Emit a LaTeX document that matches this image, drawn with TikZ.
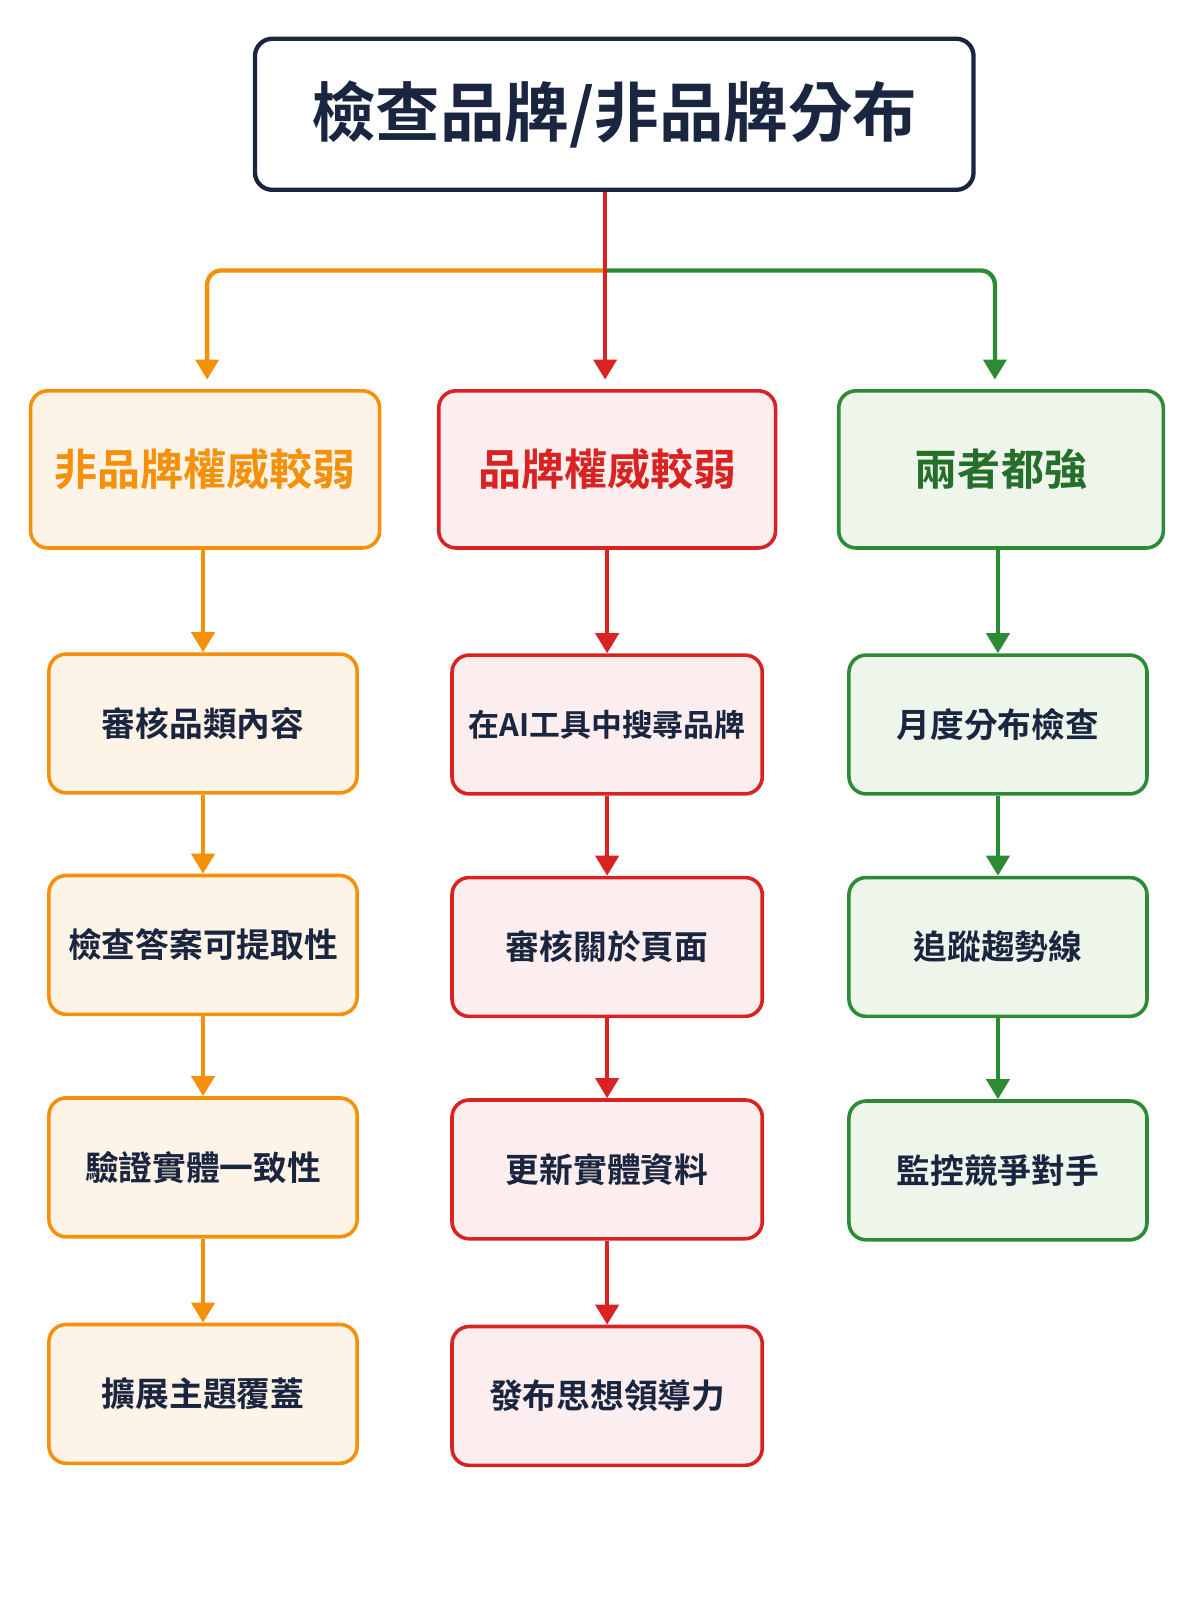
\documentclass[tikz,border=0pt]{standalone}
\usepackage{fontspec}
\newfontfamily\cjk{Noto Sans CJK TC}[BoldFont={Noto Sans CJK TC Bold}]
\usetikzlibrary{arrows.meta}
\definecolor{nv}{HTML}{1A2540}
\definecolor{og}{HTML}{F5900A}
\definecolor{rd}{HTML}{D92222}
\definecolor{gr}{HTML}{2E8B35}
\definecolor{ogf}{HTML}{FDF3E6}
\definecolor{rdf}{HTML}{FCEEEE}
\definecolor{grf}{HTML}{EEF6EC}
\begin{document}
\begin{tikzpicture}[x=0.025cm,y=-0.025cm,
 bx/.style={draw,line width=2.5pt,rounded corners=12pt,inner sep=0pt,font=\cjk\bfseries\fontsize{23.5}{28}\selectfont,text=nv},
 ob/.style={bx,draw=og,fill=ogf},
 rb/.style={bx,draw=rd,fill=rdf},
 gb/.style={bx,draw=gr,fill=grf},
 ar/.style={line width=3pt,-{Triangle[length=14pt,width=16pt]}}]
\useasboundingbox (0,0) rectangle (1176,1568);
\fill[white] (0,0) rectangle (1176,1568);
\node[bx,draw=nv,line width=3pt,fill=white,minimum width=17.6cm,minimum height=3.7cm,font=\cjk\bfseries\fontsize{45}{50}\selectfont] (t) at (602,112) {檢查品牌/非品牌分布};
\node[ob,minimum width=8.55cm,minimum height=3.85cm,text=og,font=\cjk\bfseries\fontsize{30}{34}\selectfont] (o) at (201,460) {非品牌權威較弱};
\node[rb,minimum width=8.25cm,minimum height=3.85cm,text=rd,font=\cjk\bfseries\fontsize{30}{34}\selectfont] (r) at (595,460) {品牌權威較弱};
\node[gb,minimum width=7.95cm,minimum height=3.85cm,text=gr!80!black,font=\cjk\bfseries\fontsize{30}{34}\selectfont] (g) at (981,460) {兩者都強};
\foreach \n/\y/\s in {o1/709/審核品類內容,o2/926/檢查答案可提取性,o3/1144/驗證實體一致性,o4/1366/擴展主題覆蓋}
 \node[ob,minimum width=7.55cm,minimum height=3.4cm] (\n) at (199,\y) {\s};
\node[rb,minimum width=7.6cm,minimum height=3.4cm,font=\cjk\bfseries\fontsize{21.5}{26}\selectfont] (r1) at (595,710) {在AI工具中搜尋品牌};
\foreach \n/\y/\s in {r2/928/審核關於頁面,r3/1146/更新實體資料,r4/1368/發布思想領導力}
 \node[rb,minimum width=7.6cm,minimum height=3.4cm] (\n) at (595,\y) {\s};
\foreach \n/\y/\s in {g1/710/月度分布檢查,g2/928/追蹤趨勢線,g3/1147/監控競爭對手}
 \node[gb,minimum width=7.3cm,minimum height=3.4cm] (\n) at (978,\y) {\s};
\coordinate (j) at (593,265);
\draw[ar,og,rounded corners=10pt] (j) -| (203,372);
\draw[ar,gr,rounded corners=10pt] (j) -| (975,372);
\draw[ar,rd] (t.south -| j) -- (593,372);
\draw[ar,og] (o1.north |- o.south) -- (o1); \draw[ar,og] (o1) -- (o2); \draw[ar,og] (o2) -- (o3); \draw[ar,og] (o3) -- (o4);
\draw[ar,rd] (r) -- (r1); \draw[ar,rd] (r1) -- (r2); \draw[ar,rd] (r2) -- (r3); \draw[ar,rd] (r3) -- (r4);
\draw[ar,gr] (g1.north |- g.south) -- (g1); \draw[ar,gr] (g1) -- (g2); \draw[ar,gr] (g2) -- (g3);
\end{tikzpicture}
\end{document}
